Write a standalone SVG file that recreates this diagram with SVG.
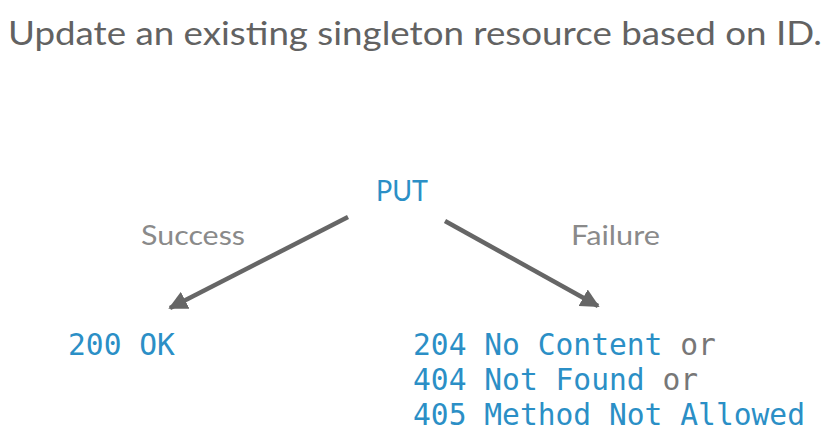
<svg xmlns="http://www.w3.org/2000/svg" width="834" height="443" viewBox="0 0 834 443">
<style>
.title{font-family:Lato,"Open Sans",sans-serif;font-size:32px;fill:#626262;}
.lbl{font-family:Lato,"Open Sans",sans-serif;font-size:26px;fill:#8a8a8a;}
.put{font-family:Lato,"Open Sans",sans-serif;font-size:29px;fill:#2b8fc6;}
.mono{font-family:"DejaVu Sans Mono",monospace;font-size:29.6px;fill:#2b8fc6;}
.or{fill:#777;}
.conn{stroke:#666;stroke-width:4.5;fill:none;marker-end:url(#ah);}
</style>
<defs>
<marker id="ah" viewBox="0 0 10 10" refX="9" refY="5" markerWidth="4.2" markerHeight="4.2" orient="auto" markerUnits="strokeWidth">
<path d="M0,0 L10,5 L0,10 z" fill="#666"/>
</marker>
</defs>
<rect width="834" height="443" fill="#fff"/>
<g id="title"><text class="title" x="8" y="45" textLength="814" lengthAdjust="spacingAndGlyphs">Update an existing singleton resource based on ID.</text></g>
<g id="put"><text class="put" x="376" y="201" textLength="52" lengthAdjust="spacingAndGlyphs">PUT</text></g>
<g id="connectors">
<line class="conn" x1="348" y1="217" x2="170" y2="308"/>
<line class="conn" x1="445" y1="221" x2="598" y2="306"/>
<text class="lbl" x="141" y="245" textLength="104" lengthAdjust="spacingAndGlyphs">Success</text>
<text class="lbl" x="571" y="245" textLength="89" lengthAdjust="spacingAndGlyphs">Failure</text>
</g>
<g id="success"><text class="mono" x="68" y="355">200 OK</text></g>
<g id="failure">
<text class="mono" x="413" y="355">204 No Content <tspan class="or">or</tspan></text>
<text class="mono" x="413" y="390">404 Not Found <tspan class="or">or</tspan></text>
<text class="mono" x="413" y="425">405 Method Not Allowed</text>
</g>
</svg>
